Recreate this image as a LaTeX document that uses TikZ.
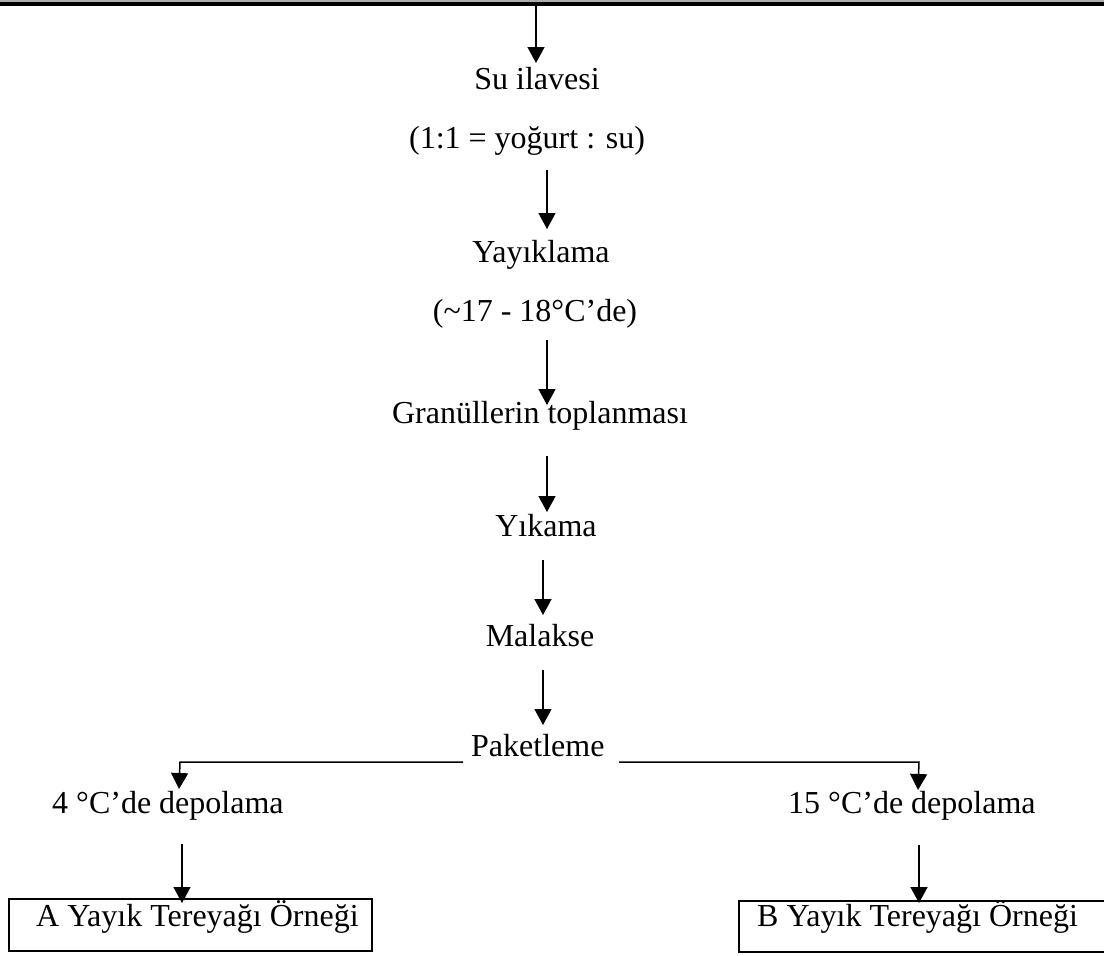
\documentclass[tikz,border=0pt]{standalone}
\usepackage{fontspec}
\setmainfont{Liberation Serif}
\usetikzlibrary{arrows.meta}
\begin{document}
\begin{tikzpicture}[x=1pt,y=-1pt,
  lbl/.style={anchor=base,inner sep=0pt,font=\fontsize{32}{38}\selectfont},
  lblw/.style={anchor=base west,inner sep=0pt,font=\fontsize{32}{38}\selectfont},
  arr/.style={line width=1.5pt,-{Triangle[length=16pt,width=17pt]}},
  frame/.style={line width=1.6pt}]
\useasboundingbox (0,0) rectangle (1104,956);
% top rule
\fill[gray!65] (0,0) rectangle (1104,2);
\fill[black] (0,2) rectangle (1104,5.5);

% text nodes
\node[lbl] (su) at (537,89) {Su ilavesi};
\node[lbl] (oran) at (527,148) {(1:1 = yoğurt : su)};
\node[lbl] (yay) at (541,262) {Yayıklama};
\node[lbl] (sic) at (535,321) {(\textasciitilde17 - 18°C’de)};
\node[lbl] (gran) at (540,423) {Granüllerin toplanması};
\node[lbl] (yik) at (546,536) {Yıkama};
\node[lbl] (mal) at (540,646) {Malakse};
\node[lblw] (pak) at (471,756) {Paketleme};
\node[lblw] (dep4) at (52,813) {4 °C’de depolama};
\node[lblw] (dep15) at (788,813) {15 °C’de depolama};
\node[lblw] (ta) at (36,926) {A Yayık Tereyağı Örneği};
\node[lblw] (tb) at (757,926) {B Yayık Tereyağı Örneği};

% frames
\draw[frame] (9,899) rectangle (372,951);
\draw[frame] (1110,901) -- (739,901) -- (739,952) -- (1110,952);

% arrow coordinates
\coordinate (a1s) at (536,5);    \coordinate (a1e) at (536,63);
\coordinate (a2s) at (547,170);  \coordinate (a2e) at (547,229);
\coordinate (a3s) at (547,340);  \coordinate (a3e) at (547,405);
\coordinate (a4s) at (547,456);  \coordinate (a4e) at (547,512);
\coordinate (a5s) at (543,560);  \coordinate (a5e) at (543,615);
\coordinate (a6s) at (543,670);  \coordinate (a6e) at (543,725);
\coordinate (bl0) at (463,762);  \coordinate (bl1) at (180,762); \coordinate (bl2) at (179,789);
\coordinate (br0) at (619,762);  \coordinate (br1) at (919,762); \coordinate (br2) at (918,790);
\coordinate (cls) at (182,844);  \coordinate (cle) at (182,903);
\coordinate (crs) at (919,845);  \coordinate (cre) at (919,903);

\draw[arr] (a1s) -- (a1e);
\draw[arr] (a2s) -- (a2e);
\draw[arr] (a3s) -- (a3e);
\draw[arr] (a4s) -- (a4e);
\draw[arr] (a5s) -- (a5e);
\draw[arr] (a6s) -- (a6e);
\draw[arr] (bl0) -- (bl1) -- (bl2);
\draw[arr] (br0) -- (br1) -- (br2);
\draw[arr] (cls) -- (cle);
\draw[arr] (crs) -- (cre);
\end{tikzpicture}
\end{document}
